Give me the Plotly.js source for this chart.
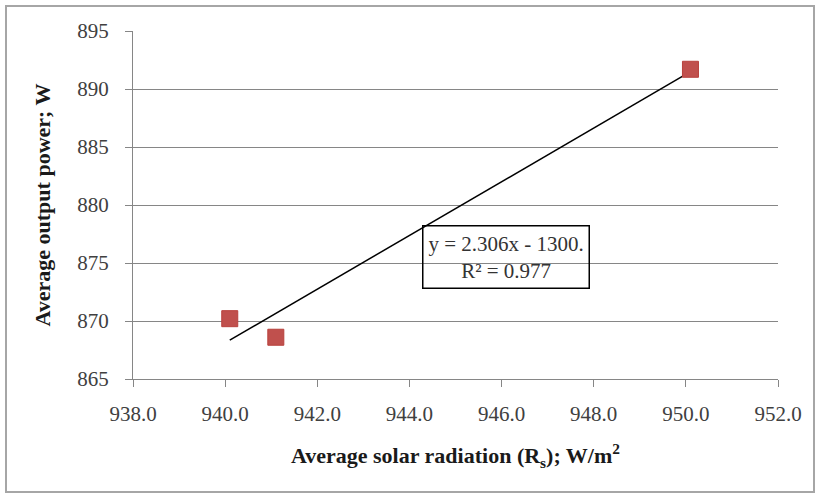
<!DOCTYPE html>
<html>
<head>
<meta charset="utf-8">
<script src="https://cdn.plot.ly/plotly-3.0.1.min.js"></script>
<style>
  html, body { margin: 0; padding: 0; background: #fff; }
  #wrap { position: relative; width: 820px; height: 498px; }
  #chart { width: 820px; height: 498px; }
  #frame { position: absolute; left: 5px; top: 5px; width: 806px; height: 484px;
           border: 2px solid #a6a6a6; pointer-events: none; }
</style>
</head>
<body>
<div id="wrap">
  <div id="chart"></div>
  <div id="frame"></div>
</div>
<script>
// Data
const solarRadiation = [940.1, 941.1, 950.1];   // W/m2
const outputPower    = [870.2, 868.6, 891.7];   // W
const xTickVals = [938, 940, 942, 944, 946, 948, 950, 952];
const yTickVals = [865, 870, 875, 880, 885, 890, 895];
const equationText = "y = 2.306x - 1300.";
const r2Text = "R² = 0.977";

// Linear least-squares trendline from the data
function linFit(xs, ys) {
  const n = xs.length;
  const mx = xs.reduce((a, b) => a + b, 0) / n;
  const my = ys.reduce((a, b) => a + b, 0) / n;
  let sxy = 0, sxx = 0;
  for (let i = 0; i < n; i++) { sxy += (xs[i] - mx) * (ys[i] - my); sxx += (xs[i] - mx) ** 2; }
  const m = sxy / sxx;
  return { m: m, b: my - m * mx };
}
const fit = linFit(solarRadiation, outputPower);
const xMin = Math.min(...solarRadiation), xMax = Math.max(...solarRadiation);
const trendX = [xMin, xMax];
const trendY = trendX.map(x => fit.m * x + fit.b);

const serif = '"Liberation Serif", "Times New Roman", serif';

const traces = [
  {
    x: trendX, y: trendY, mode: 'lines', type: 'scatter',
    line: { color: '#000000', width: 1.5 }, hoverinfo: 'skip', showlegend: false
  },
  {
    x: solarRadiation, y: outputPower, mode: 'markers', type: 'scatter',
    marker: { symbol: 'square', size: 16, color: '#C0504D', line: { color: '#B8403C', width: 1 } },
    showlegend: false
  }
];

const layout = {
  width: 820, height: 498,
  margin: { l: 133, r: 42, t: 31, b: 119 },
  paper_bgcolor: '#ffffff', plot_bgcolor: '#ffffff',
  font: { family: serif, color: '#404040', size: 20 },
  xaxis: {
    range: [938, 952], tickvals: xTickVals, tickformat: '.1f',
    showgrid: false, zeroline: false,
    showline: true, linecolor: '#868686', linewidth: 1,
    ticks: 'outside', ticklen: 7, tickcolor: '#868686',
    tickfont: { family: serif, size: 21, color: '#404040' },
    ticklabelstandoff: 9,
    title: { text: 'Average solar radiation (R<sub>s</sub>); W/m<sup>2</sup>',
             font: { family: serif, size: 22, color: '#1a1a1a', weight: 'bold' }, standoff: 22 }
  },
  yaxis: {
    range: [865, 895], tickvals: yTickVals,
    showgrid: true, gridcolor: '#868686', gridwidth: 1, zeroline: false,
    showline: true, linecolor: '#868686', linewidth: 1,
    ticks: 'outside', ticklen: 7, tickcolor: '#868686',
    tickfont: { family: serif, size: 21, color: '#404040' },
    ticklabelstandoff: 12,
    title: { text: 'Average output power; W',
             font: { family: serif, size: 22, color: '#1a1a1a', weight: 'bold' }, standoff: 20 }
  },
  annotations: [
    {
      xref: 'x', yref: 'y', x: 946.09, y: 875.5,
      text: equationText + '<br>' + r2Text,
      showarrow: false, align: 'center',
      font: { family: serif, size: 21, color: '#333333' },
      bordercolor: '#000000', borderwidth: 1.5, borderpad: 5,
      bgcolor: 'rgba(0,0,0,0)'
    }
  ]
};

Plotly.newPlot('chart', traces, layout, { displayModeBar: false, staticPlot: true });
</script>
</body>
</html>
